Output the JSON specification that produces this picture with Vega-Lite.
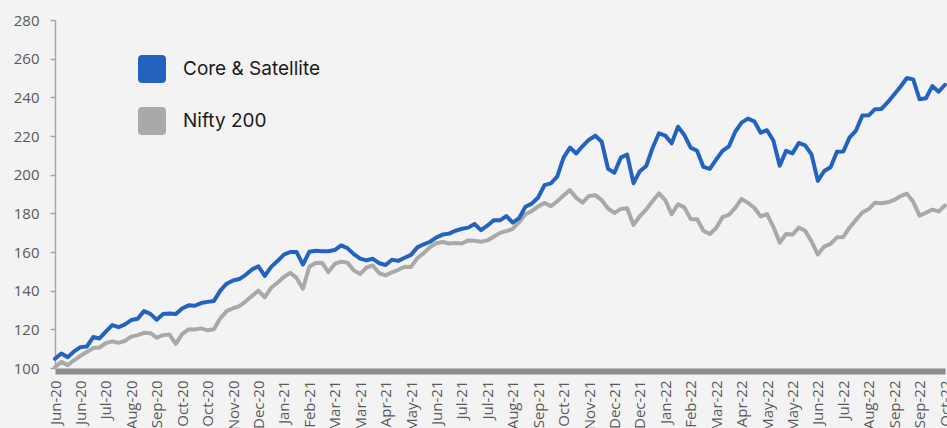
{
"$schema": "https://vega.github.io/schema/vega-lite/v6.json",
"width": 890, "height": 348,
"autosize": {"type": "none"},
"padding": {"left": 55, "top": 20, "right": 2, "bottom": 60},
"background": "#f3f3f3",
"config": {"view": {"stroke": null}, "font": "Open Sans"},
"data": {"values": [
{"date":"2020-06-01","Core & Satellite":104.8,"Nifty 200":100.4},
{"date":"2020-06-07","Core & Satellite":107.5,"Nifty 200":103.2},
{"date":"2020-06-13","Core & Satellite":105.6,"Nifty 200":101.5},
{"date":"2020-06-19","Core & Satellite":108.6,"Nifty 200":104},
{"date":"2020-06-24","Core & Satellite":110.8,"Nifty 200":106.3},
{"date":"2020-06-30","Core & Satellite":111.1,"Nifty 200":108.3},
{"date":"2020-07-06","Core & Satellite":116,"Nifty 200":110.3},
{"date":"2020-07-12","Core & Satellite":115.3,"Nifty 200":110.6},
{"date":"2020-07-17","Core & Satellite":118.8,"Nifty 200":112.9},
{"date":"2020-07-23","Core & Satellite":122.2,"Nifty 200":113.8},
{"date":"2020-07-30","Core & Satellite":121.1,"Nifty 200":113},
{"date":"2020-08-05","Core & Satellite":122.6,"Nifty 200":114},
{"date":"2020-08-11","Core & Satellite":124.8,"Nifty 200":116.2},
{"date":"2020-08-17","Core & Satellite":125.5,"Nifty 200":117},
{"date":"2020-08-23","Core & Satellite":129.4,"Nifty 200":118.2},
{"date":"2020-08-29","Core & Satellite":128,"Nifty 200":118},
{"date":"2020-09-03","Core & Satellite":125,"Nifty 200":115.7},
{"date":"2020-09-10","Core & Satellite":127.9,"Nifty 200":117},
{"date":"2020-09-17","Core & Satellite":128.2,"Nifty 200":117.3},
{"date":"2020-09-24","Core & Satellite":127.9,"Nifty 200":112.5},
{"date":"2020-10-01","Core & Satellite":130.8,"Nifty 200":117.5},
{"date":"2020-10-07","Core & Satellite":132.4,"Nifty 200":120},
{"date":"2020-10-13","Core & Satellite":132.2,"Nifty 200":119.9},
{"date":"2020-10-19","Core & Satellite":133.6,"Nifty 200":120.5},
{"date":"2020-10-26","Core & Satellite":134.2,"Nifty 200":119.5},
{"date":"2020-11-01","Core & Satellite":134.7,"Nifty 200":120},
{"date":"2020-11-07","Core & Satellite":140,"Nifty 200":125.7},
{"date":"2020-11-13","Core & Satellite":143.6,"Nifty 200":129.4},
{"date":"2020-11-19","Core & Satellite":145.3,"Nifty 200":130.9},
{"date":"2020-11-25","Core & Satellite":146,"Nifty 200":132},
{"date":"2020-12-02","Core & Satellite":148.2,"Nifty 200":134.5},
{"date":"2020-12-08","Core & Satellite":151,"Nifty 200":137.3},
{"date":"2020-12-14","Core & Satellite":152.6,"Nifty 200":140},
{"date":"2020-12-20","Core & Satellite":147.6,"Nifty 200":136.6},
{"date":"2020-12-27","Core & Satellite":152.3,"Nifty 200":141.5},
{"date":"2021-01-02","Core & Satellite":155.3,"Nifty 200":144.1},
{"date":"2021-01-08","Core & Satellite":158.6,"Nifty 200":147.1},
{"date":"2021-01-14","Core & Satellite":160,"Nifty 200":149.2},
{"date":"2021-01-20","Core & Satellite":160,"Nifty 200":146.6},
{"date":"2021-01-27","Core & Satellite":153.5,"Nifty 200":141},
{"date":"2021-02-02","Core & Satellite":160.1,"Nifty 200":152.4},
{"date":"2021-02-09","Core & Satellite":160.6,"Nifty 200":154.3},
{"date":"2021-02-16","Core & Satellite":160.4,"Nifty 200":154.5},
{"date":"2021-02-22","Core & Satellite":160.4,"Nifty 200":149.6},
{"date":"2021-03-01","Core & Satellite":161,"Nifty 200":153.8},
{"date":"2021-03-07","Core & Satellite":163.4,"Nifty 200":155},
{"date":"2021-03-12","Core & Satellite":162,"Nifty 200":154.5},
{"date":"2021-03-18","Core & Satellite":158.9,"Nifty 200":150.5},
{"date":"2021-03-24","Core & Satellite":156.6,"Nifty 200":148.6},
{"date":"2021-03-31","Core & Satellite":155.7,"Nifty 200":152},
{"date":"2021-04-06","Core & Satellite":156.5,"Nifty 200":153},
{"date":"2021-04-12","Core & Satellite":154.2,"Nifty 200":149},
{"date":"2021-04-19","Core & Satellite":153.3,"Nifty 200":147.9},
{"date":"2021-04-24","Core & Satellite":156,"Nifty 200":149.5},
{"date":"2021-04-30","Core & Satellite":155.4,"Nifty 200":150.8},
{"date":"2021-05-06","Core & Satellite":157,"Nifty 200":152.4},
{"date":"2021-05-12","Core & Satellite":158.5,"Nifty 200":152.3},
{"date":"2021-05-18","Core & Satellite":162.4,"Nifty 200":156.8},
{"date":"2021-05-24","Core & Satellite":164,"Nifty 200":159.4},
{"date":"2021-05-29","Core & Satellite":165.3,"Nifty 200":162.6},
{"date":"2021-06-04","Core & Satellite":167.6,"Nifty 200":164.5},
{"date":"2021-06-11","Core & Satellite":169,"Nifty 200":165.2},
{"date":"2021-06-18","Core & Satellite":169.5,"Nifty 200":164.4},
{"date":"2021-06-24","Core & Satellite":171,"Nifty 200":164.6},
{"date":"2021-07-01","Core & Satellite":172,"Nifty 200":164.4},
{"date":"2021-07-07","Core & Satellite":172.6,"Nifty 200":166},
{"date":"2021-07-13","Core & Satellite":174.5,"Nifty 200":165.8},
{"date":"2021-07-19","Core & Satellite":171.3,"Nifty 200":165.3},
{"date":"2021-07-26","Core & Satellite":173.6,"Nifty 200":166},
{"date":"2021-08-01","Core & Satellite":176.4,"Nifty 200":167.9},
{"date":"2021-08-07","Core & Satellite":176.4,"Nifty 200":169.9},
{"date":"2021-08-12","Core & Satellite":178.6,"Nifty 200":170.8},
{"date":"2021-08-18","Core & Satellite":175.2,"Nifty 200":172},
{"date":"2021-08-25","Core & Satellite":177.5,"Nifty 200":175.4},
{"date":"2021-08-31","Core & Satellite":183.4,"Nifty 200":179.5},
{"date":"2021-09-06","Core & Satellite":185,"Nifty 200":181.2},
{"date":"2021-09-13","Core & Satellite":188.2,"Nifty 200":183.6},
{"date":"2021-09-19","Core & Satellite":194.6,"Nifty 200":185.4},
{"date":"2021-09-24","Core & Satellite":195.5,"Nifty 200":183.7},
{"date":"2021-09-30","Core & Satellite":199,"Nifty 200":186.2},
{"date":"2021-10-06","Core & Satellite":208.8,"Nifty 200":189.2},
{"date":"2021-10-13","Core & Satellite":214,"Nifty 200":192},
{"date":"2021-10-20","Core & Satellite":211,"Nifty 200":188},
{"date":"2021-10-27","Core & Satellite":214.8,"Nifty 200":185.5},
{"date":"2021-11-02","Core & Satellite":218.1,"Nifty 200":189},
{"date":"2021-11-09","Core & Satellite":220.1,"Nifty 200":189.4},
{"date":"2021-11-17","Core & Satellite":217,"Nifty 200":186.8},
{"date":"2021-11-24","Core & Satellite":203,"Nifty 200":182.5},
{"date":"2021-12-01","Core & Satellite":201,"Nifty 200":180.2},
{"date":"2021-12-07","Core & Satellite":208.8,"Nifty 200":182.3},
{"date":"2021-12-12","Core & Satellite":210.4,"Nifty 200":182.6},
{"date":"2021-12-18","Core & Satellite":195.6,"Nifty 200":174},
{"date":"2021-12-24","Core & Satellite":201.8,"Nifty 200":178.6},
{"date":"2021-12-31","Core & Satellite":204.5,"Nifty 200":182},
{"date":"2022-01-06","Core & Satellite":213.8,"Nifty 200":186.4},
{"date":"2022-01-13","Core & Satellite":221.4,"Nifty 200":190.3},
{"date":"2022-01-19","Core & Satellite":220.2,"Nifty 200":186.8},
{"date":"2022-01-25","Core & Satellite":216.2,"Nifty 200":179.5},
{"date":"2022-01-31","Core & Satellite":224.8,"Nifty 200":184.7},
{"date":"2022-02-05","Core & Satellite":220.5,"Nifty 200":183.1},
{"date":"2022-02-11","Core & Satellite":214,"Nifty 200":177},
{"date":"2022-02-17","Core & Satellite":212.4,"Nifty 200":177},
{"date":"2022-02-24","Core & Satellite":204,"Nifty 200":171},
{"date":"2022-03-02","Core & Satellite":203,"Nifty 200":169.3},
{"date":"2022-03-08","Core & Satellite":207.8,"Nifty 200":172.4},
{"date":"2022-03-15","Core & Satellite":212.3,"Nifty 200":178},
{"date":"2022-03-22","Core & Satellite":214.6,"Nifty 200":179.2},
{"date":"2022-03-28","Core & Satellite":222.2,"Nifty 200":182.8},
{"date":"2022-04-04","Core & Satellite":226.9,"Nifty 200":187.5},
{"date":"2022-04-11","Core & Satellite":229,"Nifty 200":185.4},
{"date":"2022-04-18","Core & Satellite":227.6,"Nifty 200":182.9},
{"date":"2022-04-25","Core & Satellite":221.7,"Nifty 200":178.4},
{"date":"2022-05-02","Core & Satellite":223,"Nifty 200":179.6},
{"date":"2022-05-08","Core & Satellite":217.7,"Nifty 200":173},
{"date":"2022-05-13","Core & Satellite":204.6,"Nifty 200":164.8},
{"date":"2022-05-19","Core & Satellite":212.3,"Nifty 200":169.3},
{"date":"2022-05-25","Core & Satellite":211,"Nifty 200":169},
{"date":"2022-05-31","Core & Satellite":216.4,"Nifty 200":172.6},
{"date":"2022-06-06","Core & Satellite":215.2,"Nifty 200":171},
{"date":"2022-06-11","Core & Satellite":210.5,"Nifty 200":165.5},
{"date":"2022-06-17","Core & Satellite":196.8,"Nifty 200":158.7},
{"date":"2022-06-23","Core & Satellite":201.9,"Nifty 200":162.8},
{"date":"2022-06-30","Core & Satellite":203.8,"Nifty 200":164.2},
{"date":"2022-07-06","Core & Satellite":211.8,"Nifty 200":167.6},
{"date":"2022-07-12","Core & Satellite":212,"Nifty 200":167.8},
{"date":"2022-07-18","Core & Satellite":219.3,"Nifty 200":172.7},
{"date":"2022-07-24","Core & Satellite":222.8,"Nifty 200":176.6},
{"date":"2022-07-29","Core & Satellite":230.6,"Nifty 200":180.4},
{"date":"2022-08-04","Core & Satellite":230.7,"Nifty 200":182.2},
{"date":"2022-08-11","Core & Satellite":233.9,"Nifty 200":185.5},
{"date":"2022-08-18","Core & Satellite":234,"Nifty 200":185.2},
{"date":"2022-08-25","Core & Satellite":237.5,"Nifty 200":185.7},
{"date":"2022-09-01","Core & Satellite":241.5,"Nifty 200":186.9},
{"date":"2022-09-07","Core & Satellite":245.5,"Nifty 200":188.9},
{"date":"2022-09-13","Core & Satellite":250,"Nifty 200":190.2},
{"date":"2022-09-19","Core & Satellite":249.3,"Nifty 200":186},
{"date":"2022-09-26","Core & Satellite":239,"Nifty 200":178.8},
{"date":"2022-10-02","Core & Satellite":239.5,"Nifty 200":180.3},
{"date":"2022-10-08","Core & Satellite":245.8,"Nifty 200":181.9},
{"date":"2022-10-14","Core & Satellite":242.9,"Nifty 200":181},
{"date":"2022-10-20","Core & Satellite":246.5,"Nifty 200":184}
]},
"transform": [{"fold": ["Core & Satellite", "Nifty 200"], "as": ["series", "value"]}],
"encoding": {
  "x": {"field": "date", "type": "ordinal", "scale": {"type": "point", "padding": 0},
    "axis": {"title": null, "grid": false, "ticks": false,
      "values": ["2020-06-01","2020-06-24","2020-07-17","2020-08-11","2020-09-03","2020-10-01","2020-10-26","2020-11-19","2020-12-14","2021-01-08","2021-02-02","2021-03-01","2021-03-24","2021-04-19","2021-05-12","2021-06-04","2021-07-01","2021-07-26","2021-08-18","2021-09-13","2021-10-06","2021-11-02","2021-12-01","2021-12-24","2022-01-19","2022-02-11","2022-03-08","2022-04-04","2022-05-02","2022-05-25","2022-06-17","2022-07-12","2022-08-04","2022-09-01","2022-09-26","2022-10-20"],
      "labelExpr": "utcFormat(toDate(datum.value), '%b-%y')",
      "labelAngle": -90, "labelAlign": "right", "labelBaseline": "middle",
      "labelOverlap": false, "labelPadding": 9, "labelFontSize": 15, "labelColor": "#595959", "labelFont": "Open Sans",
      "domainColor": "#8c8c8c", "domainWidth": 6, "domainCap": "butt", "offset": 3}},
  "y": {"field": "value", "type": "quantitative", "scale": {"domain": [100, 280], "nice": false, "zero": false},
    "axis": {"title": null, "grid": false, "values": [100,120,140,160,180,200,220,240,260,280],
      "domainColor": "#a6a6a6", "domainWidth": 1.5, "tickColor": "#a6a6a6", "tickWidth": 1.5, "tickSize": 5,
      "labelPadding": 11, "labelFontSize": 15, "labelColor": "#595959", "labelFont": "Open Sans"}},
  "color": {"field": "series", "type": "nominal",
    "scale": {"domain": ["Core & Satellite", "Nifty 200"], "range": ["#2462c0", "#a9a9ab"]},
    "legend": {"title": null, "orient": "none", "legendX": 83, "legendY": 35, "padding": 0,
      "symbolType": "M-0.7,-1H0.7Q1,-1,1,-0.7V0.7Q1,1,0.7,1H-0.7Q-1,1,-1,0.7V-0.7Q-1,-1,-0.7,-1Z",
      "symbolSize": 784, "symbolStrokeWidth": 0, "symbolOpacity": 1,
      "labelFont": "Inter", "labelFontSize": 19, "labelColor": "#1a1a1a", "labelOffset": 17, "rowPadding": 24,
      "encode": {"symbols": {"update": {"fill": {"scale": "color", "field": "value"}, "fillOpacity": {"value": 1}, "strokeWidth": {"value": 0}}}}}}
},
"layer": [
  {"transform": [{"filter": "datum.series === 'Nifty 200'"}], "mark": {"type": "line", "strokeWidth": 4, "strokeJoin": "round", "strokeCap": "round"}},
  {"transform": [{"filter": "datum.series === 'Core & Satellite'"}], "mark": {"type": "line", "strokeWidth": 4, "strokeJoin": "round", "strokeCap": "round"}}
]
}
